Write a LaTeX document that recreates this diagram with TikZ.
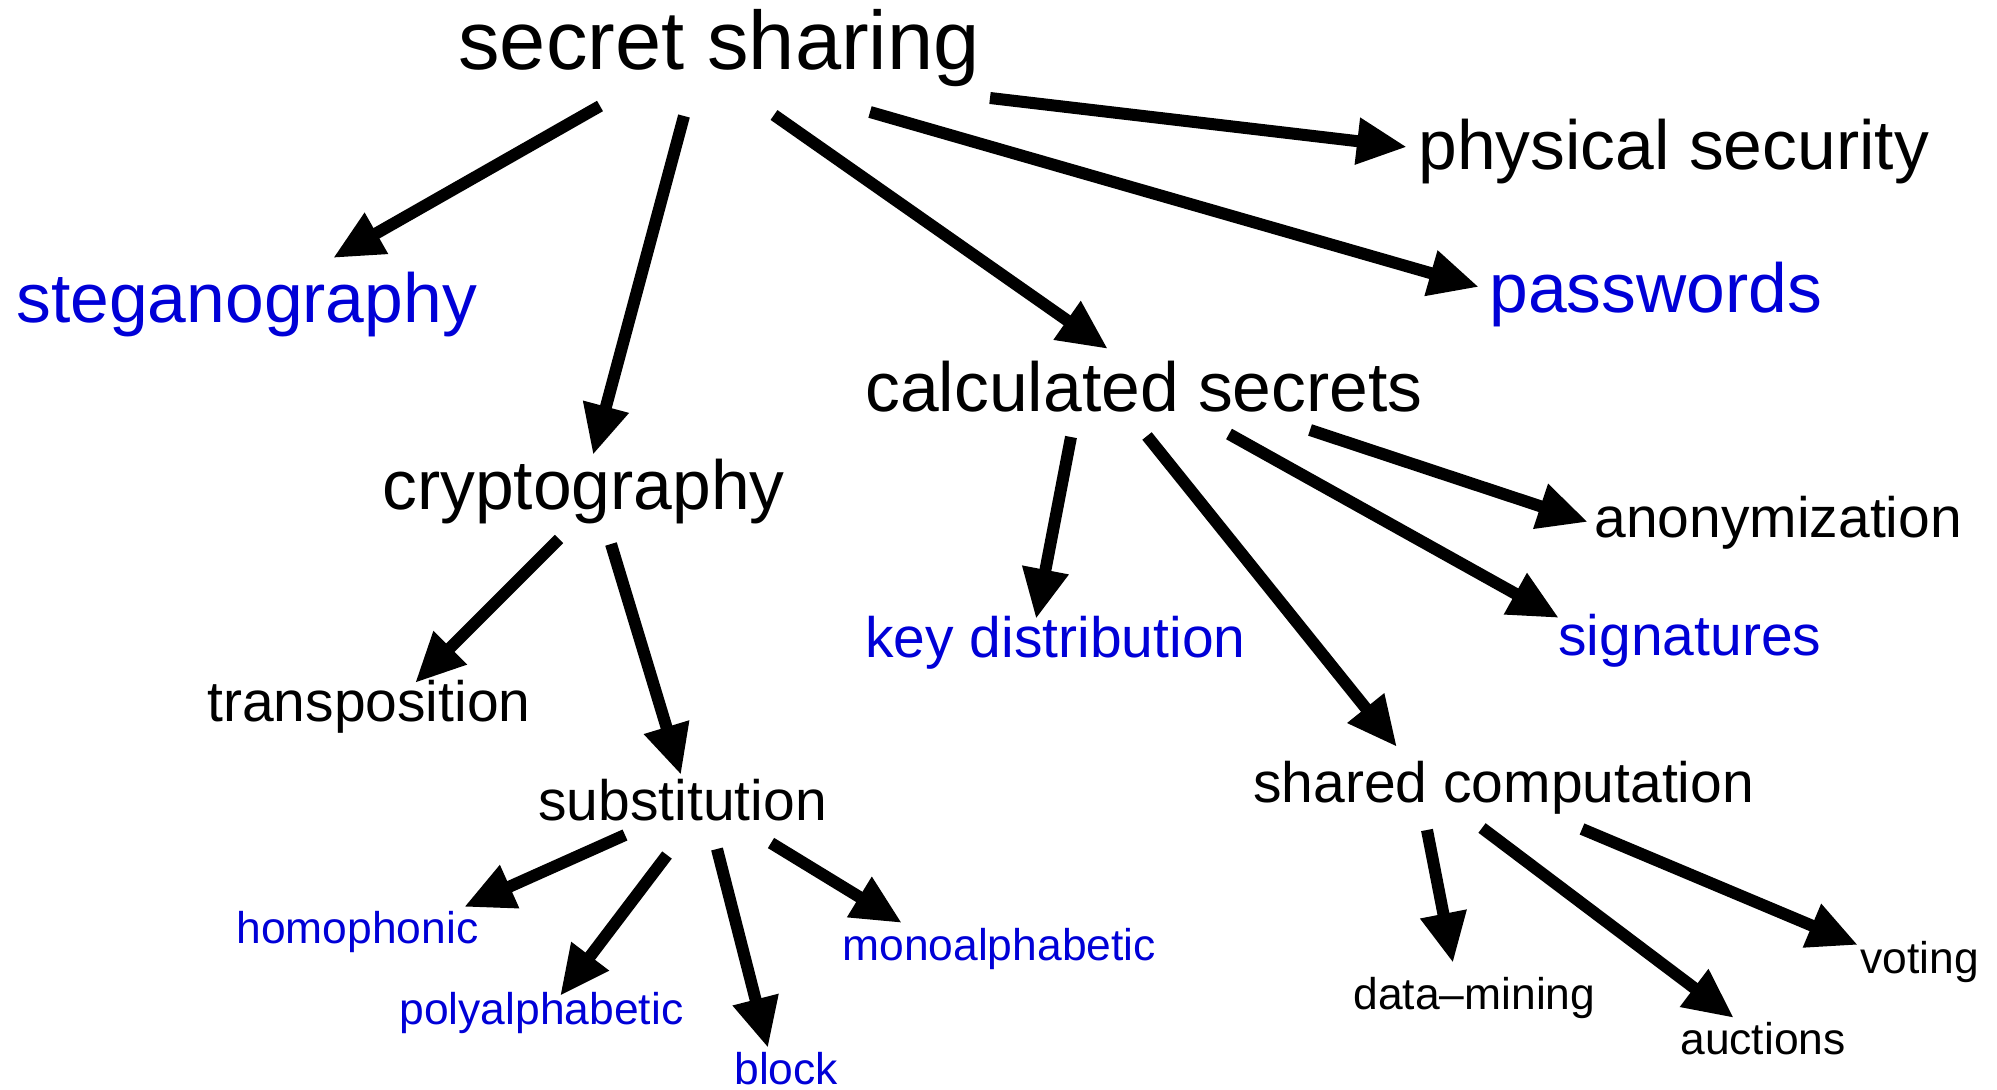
\documentclass[tikz,border=0pt]{standalone}
\usepackage{fontspec}
\setmainfont{Liberation Sans}
\usetikzlibrary{arrows.meta}
\definecolor{topicblue}{RGB}{0,0,215}
\tikzset{
  lvlone/.style={anchor=base west, inner sep=0pt, font=\fontsize{41.5pt}{48pt}\selectfont},
  lvltwo/.style={anchor=base west, inner sep=0pt, font=\fontsize{34.8pt}{42pt}\selectfont},
  lvlthree/.style={anchor=base west, inner sep=0pt, font=\fontsize{28.5pt}{34pt}\selectfont},
  lvlfour/.style={anchor=base west, inner sep=0pt, font=\fontsize{22.2pt}{27pt}\selectfont},
  leaf/.style={text=topicblue},
  arr/.style={line width=6pt, -{Triangle[length=25pt, width=22pt]}}
}
\begin{document}
\begin{tikzpicture}[x=0.5pt, y=-0.5pt]
\useasboundingbox (0,0) rectangle (1997,1090);

% topics
\node[lvlone] (ss) at (458,70) {secret sharing};
\node[lvltwo] (phys) at (1418,170) {physical security};
\node[lvltwo, leaf] (pass) at (1489,313) {passwords};
\node[lvltwo, leaf] (steg) at (16,323) {steganography};
\node[lvltwo] (calc) at (865,412) {calculated secrets};
\node[lvltwo] (crypt) at (382,510) {cryptography};
\node[lvlthree] (trans) at (207,721) {transposition};
\node[lvlthree, leaf] (keyd) at (865,657) {key distribution};
\node[lvlthree] (anon) at (1594,538) {anonymization};
\node[lvlthree, leaf] (sig) at (1558,655) {signatures};
\node[lvlthree] (shcomp) at (1253,802) {shared computation};
\node[lvlthree] (subst) at (538,820) {substitution};
\node[lvlfour, leaf] (homo) at (236,943) {homophonic};
\node[lvlfour, leaf] (poly) at (399,1024) {polyalphabetic};
\node[lvlfour, leaf] (block) at (734,1084) {block};
\node[lvlfour, leaf] (mono) at (842,960) {monoalphabetic};
\node[lvlfour] (dm) at (1353,1009) {data--mining};
\node[lvlfour] (auc) at (1680,1054) {auctions};
\node[lvlfour] (vot) at (1860,973) {voting};

% secret sharing
\draw[arr] ([shift={(142,36)}]ss.base west) -- ([shift={(317,-65)}]steg.base west);
\draw[arr] ([shift={(226,46)}]ss.base west) -- ([shift={(211,-55)}]crypt.base west);
\draw[arr] ([shift={(316,45)}]ss.base west) -- ([shift={(243,-63)}]calc.base west);
\draw[arr] ([shift={(412,42)}]ss.base west) -- ([shift={(-10,-26)}]pass.base west);
\draw[arr] ([shift={(532,28)}]ss.base west) -- ([shift={(-11,-23)}]phys.base west);

% calculated secrets
\draw[arr] ([shift={(206,25)}]calc.base west) -- ([shift={(171,-38)}]keyd.base west);
\draw[arr] ([shift={(282,24)}]calc.base west) -- ([shift={(144,-55)}]shcomp.base west);
\draw[arr] ([shift={(364,22)}]calc.base west) -- ([shift={(1,-37)}]sig.base west);
\draw[arr] ([shift={(445,18)}]calc.base west) -- ([shift={(-6,-16)}]anon.base west);

% cryptography
\draw[arr] ([shift={(177,29)}]crypt.base west) -- ([shift={(208,-38)}]trans.base west);
\draw[arr] ([shift={(229,34)}]crypt.base west) -- ([shift={(143,-45)}]subst.base west);

% substitution
\draw[arr] ([shift={(87,15)}]subst.base west) -- ([shift={(228,-36)}]homo.base west);
\draw[arr] ([shift={(129,35)}]subst.base west) -- ([shift={(161,-28)}]poly.base west);
\draw[arr] ([shift={(179,29)}]subst.base west) -- ([shift={(34,-36)}]block.base west);
\draw[arr] ([shift={(233,23)}]subst.base west) -- ([shift={(60,-37)}]mono.base west);

% shared computation
\draw[arr] ([shift={(174,28)}]shcomp.base west) -- ([shift={(100,-46)}]dm.base west);
\draw[arr] ([shift={(229,26)}]shcomp.base west) -- ([shift={(54,-36)}]auc.base west);
\draw[arr] ([shift={(329,27)}]shcomp.base west) -- ([shift={(-2,-28)}]vot.base west);
\end{tikzpicture}
\end{document}
